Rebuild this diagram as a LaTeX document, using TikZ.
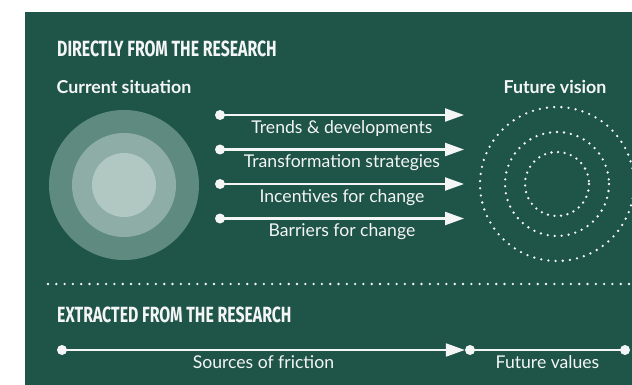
\documentclass[tikz,border=0pt]{standalone}
\usepackage{fontspec}
\usepackage{tikz}
\usetikzlibrary{positioning, arrows.meta, calc}
\setmainfont{Lato}
\newfontfamily\headfont[FakeStretch=0.72]{Fira Sans}
\definecolor{board-green}{HTML}{1F5449}
\definecolor{ring-outer}{HTML}{5E8A80}
\definecolor{ring-mid}{HTML}{8EADA6}
\definecolor{ring-inner}{HTML}{B0C7C2}
\definecolor{chalk}{HTML}{F4F6F5}
\tikzset{
  heading/.style={anchor=base west, font=\headfont\bfseries\fontsize{22}{22}\selectfont, text=chalk, inner sep=0},
  subhead/.style={anchor=base, font=\bfseries\fontsize{17.8}{18}\selectfont, text=chalk, inner sep=0},
  flowlabel/.style={font=\fontsize{17.6}{18}\selectfont, text=chalk, inner sep=0},
  pin/.style={circle, fill=chalk, inner sep=0, minimum size=10pt},
  flow/.style={chalk, line width=2.2pt, -{Triangle[length=19pt, width=13pt]}},
  plain flow/.style={chalk, line width=2.2pt},
  dots/.style={chalk, line width=2.6pt, line cap=round, dash pattern=on 0pt off 7pt}
}
\begin{document}
\begin{tikzpicture}[x=1pt, y=-1pt]
  \useasboundingbox (0,0) rectangle (632,385);
  \fill[board-green] (25,12) rectangle (632,385);

  \node[heading] (top head) at (57,57) {DIRECTLY FROM THE RESEARCH};
  \node[subhead] (now) at (124,94) {Current situation};
  \node[subhead] (later) at (555,94) {Future vision};

  \fill[ring-outer] (124,185) circle (75);
  \fill[ring-mid] (124,185) circle (52);
  \fill[ring-inner] (124,185) circle (32);

  \foreach \r/\sp in {77/7.2, 52/7.0, 32/6.6}
    \draw[dots, dash pattern=on 0pt off \sp pt] (557,184) circle (\r);

  \foreach \i/\txt in {0/Trends \& developments, 1/Transformation strategies,
                       2/Incentives for change, 3/Barriers for change} {
    \node[pin] (src\i) at (220, 115+\i*34.5) {};
    \coordinate (dst\i) at (464, 115+\i*34.5);
    \draw[flow] (src\i.center) -- (dst\i);
    \node[flowlabel, below=5pt of $(src\i)!0.5!(dst\i)$] {\txt};
  }

  \draw[dots, dash pattern=on 0pt off 8.3pt] (48,284) -- (632,284);

  \node[heading] (bottom head) at (57,322) {EXTRACTED FROM THE RESEARCH};

  \node[pin] (friction) at (62,350) {};
  \node[pin] (values) at (470,350) {};
  \node[pin] (end) at (625,350) {};
  \draw[flow] (friction.center) -- (values.west);
  \draw[plain flow] (values.center) -- (end.center);
  \node[flowlabel, below=5pt of $(friction)!0.5!(values.west)$] {Sources of friction};
  \node[flowlabel, below=5pt of $(values)!0.5!(end)$] {Future values};
\end{tikzpicture}
\end{document}
